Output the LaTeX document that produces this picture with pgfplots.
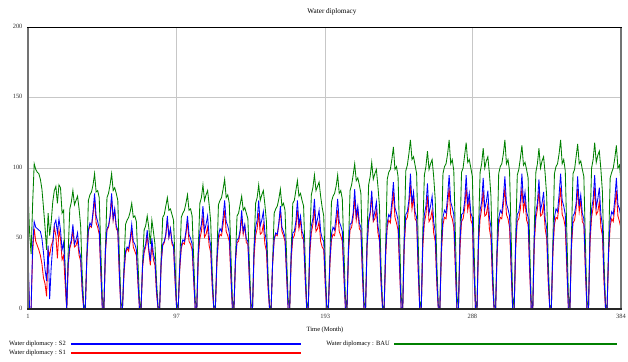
\documentclass[border=0pt]{standalone}
\usepackage{pgfplots}
\pgfplotsset{compat=1.18}
\usepackage{pgfplotstable}
\usepackage{fontspec}
\setmainfont{Liberation Serif}
\definecolor{cS2}{RGB}{0,0,255}
\definecolor{cS1}{RGB}{255,0,0}
\definecolor{cBAU}{RGB}{0,128,0}
\pgfplotstableread{
G B R
83 41 33
55 0 0
39 0 0
75 45 40
103 62 57
99 58 48
97 57 45
96 56 42
92 55 38
85 50 32
72 40 22
58 28 18
42 20 9
68 45 42
52 7 38
62 30 45
76 45 48
84 60 58
87 63 52
75 54 36
88 64 56
86 56 50
68 42 35
70 47 38
25 28 18
0 0 0
42 33 31
71 45 43
76 49 47
84 60 56
74 46 44
77 49 45
80 54 49
71 42 38
59 37 34
25 15 12
3 0 0
0 0 0
38 37 35
77 56 55
81 61 59
83 59 58
88 69 67
96 82 78
83 66 61
84 62 58
79 57 53
43 29 26
8 0 0
0 0 0
43 41 39
79 57 56
82 59 58
88 66 65
96 82 78
84 64 63
86 71 70
82 59 57
77 56 55
38 26 23
5 0 0
0 0 0
30 27 25
60 41 39
63 44 43
65 43 41
69 50 48
75 60 56
65 48 44
66 46 41
62 42 38
34 21 18
6 0 0
0 0 0
33 31 29
56 42 40
59 46 44
66 56 52
58 43 41
46 34 31
63 50 46
55 39 35
46 35 31
20 14 11
2 0 0
0 0 0
36 33 32
65 46 45
67 48 47
73 53 52
79 66 63
70 51 51
71 57 57
67 48 46
63 45 44
32 21 19
4 0 0
0 0 0
32 30 28
65 45 43
68 49 47
70 48 46
75 55 53
81 66 62
70 53 48
71 50 46
66 46 42
36 23 20
6 0 0
0 0 0
44 40 36
75 55 50
79 60 55
88 73 66
77 55 51
81 60 53
84 66 58
74 51 45
62 45 40
26 18 15
3 0 0
0 0 0
37 35 32
74 52 49
77 57 53
79 55 52
85 65 60
92 77 70
79 62 55
81 59 52
75 54 48
41 27 23
7 0 0
0 0 0
36 35 33
66 49 47
68 50 48
74 56 54
80 70 65
70 55 53
72 60 59
68 50 47
64 48 46
32 22 20
4 0 0
0 0 0
44 42 37
75 58 52
79 63 57
88 77 68
77 59 53
81 63 54
84 69 60
74 54 46
62 48 41
26 19 15
3 0 0
0 0 0
34 33 32
68 50 49
71 54 53
73 53 52
78 61 60
85 73 70
73 58 55
75 55 52
70 51 48
38 26 23
7 0 0
0 0 0
41 39 35
75 54 50
77 55 52
84 62 58
91 77 70
80 60 57
82 66 63
77 55 51
73 52 49
36 25 21
5 0 0
0 0 0
48 43 39
81 59 54
86 64 60
95 78 71
84 59 55
87 64 57
90 70 62
80 55 48
72 50 44
66 48 42
29 20 16
3 0 0
0 0 0
38 35 32
76 53 49
80 58 53
82 56 52
87 66 60
95 78 70
82 62 55
84 59 52
78 55 48
43 27 23
8 0 0
0 0 0
46 43 39
84 60 56
88 61 58
95 68 65
103 85 78
91 66 63
93 73 70
88 61 57
82 58 55
41 27 23
5 0 0
0 0 0
52 46 44
88 63 61
94 69 67
104 84 80
92 64 62
96 69 64
99 76 70
87 59 54
73 52 48
31 21 18
3 0 0
0 0 0
46 41 37
92 61 58
97 67 63
99 65 61
106 76 71
115 90 83
99 72 65
101 68 61
94 63 56
52 32 27
9 0 0
0 0 0
54 48 44
98 67 63
102 69 65
110 77 73
120 96 88
106 75 71
108 83 79
102 69 64
96 65 62
48 31 26
6 0 0
0 0 0
56 49 44
95 67 61
101 73 67
112 89 80
99 68 62
103 73 64
106 80 70
94 62 54
78 55 48
34 22 18
3 0 0
0 0 0
48 43 39
96 65 60
101 70 65
103 68 64
110 80 74
120 95 86
103 76 67
106 72 64
98 67 58
54 33 28
10 0 0
0 0 0
53 48 43
97 67 62
100 68 64
109 76 71
118 95 86
104 74 70
106 82 77
100 68 63
94 65 60
47 30 26
6 0 0
0 0 0
57 51 46
97 70 64
103 76 71
114 93 84
100 71 66
105 76 67
108 84 74
96 65 57
80 58 50
34 23 18
3 0 0
0 0 0
48 42 39
96 64 60
101 70 65
103 68 64
110 79 74
120 94 86
103 75 67
106 71 64
98 66 58
54 33 28
10 0 0
0 0 0
52 48 43
95 67 62
99 69 64
107 77 71
116 96 86
102 75 70
104 83 77
99 69 63
93 65 60
46 31 26
6 0 0
0 0 0
57 51 46
97 69 64
103 75 71
114 92 84
100 70 66
105 75 67
108 83 74
96 64 57
80 57 50
34 23 18
3 0 0
0 0 0
48 43 39
96 65 60
101 71 65
103 69 64
110 81 74
120 96 86
103 77 67
106 73 64
98 67 58
54 34 28
10 0 0
0 0 0
53 47 43
96 66 61
99 68 63
108 75 71
117 94 85
103 73 69
105 81 77
99 68 62
94 64 60
47 30 26
6 0 0
0 0 0
59 52 47
100 71 65
106 78 72
118 95 86
104 72 67
109 78 69
112 86 76
99 67 58
83 59 52
35 24 19
4 0 0
0 0 0
46 42 38
93 63 59
97 69 64
100 67 62
107 78 72
116 93 84
100 74 66
102 71 62
90 65 57
}\wdtable

\begin{document}
\begin{tikzpicture}[x=1bp,y=1bp]
\useasboundingbox (0,0) rectangle (628,361);
\begin{axis}[
  at={(28bp,52bp)}, anchor=south west,
  scale only axis, width=593bp, height=282bp,
  xmin=1, xmax=384, ymin=0, ymax=200,
  xtick={1,97,193,288,384}, ytick={0,50,100,150,200},
  xmajorgrids, ymajorgrids,
  major grid style={draw=black!22, line width=0.9pt},
  major tick length=0pt,
  axis line style={draw=none},
  /pgf/number format/assume math mode=true,
  ticklabel style={font=\fontsize{6.5}{7}\selectfont, text=black!80},
  yticklabel style={xshift=-2bp, yshift=1bp},
  xticklabel style={yshift=-2bp},
]
\addplot[cBAU, line width=0.85pt] table[x expr=\coordindex+1, y=G] {\wdtable};
\addplot[cS1, line width=0.85pt] table[x expr=\coordindex+1, y=R] {\wdtable};
\addplot[cS2, line width=0.85pt] table[x expr=\coordindex+1, y=B] {\wdtable};
\end{axis}
% frame
\draw[black!55, line width=1.6pt] (28,52) -- (28,334);
\draw[black!55, line width=1.6pt] (621,52) -- (621,334);
\draw[black, line width=1pt] (27.2,334) -- (621.8,334);
\draw[black!85, line width=1.6pt] (27.2,52) -- (621.8,52);
% title and axis label
\node[font=\fontsize{7.2}{8}\selectfont] at (332,349) {Water diplomacy};
\node[font=\fontsize{6.5}{7}\selectfont] at (325,31) {Time (Month)};
% legend
\draw[cS2, line width=1.1pt] (71,17) -- (301,17);
\draw[cS1, line width=1.1pt] (71,8) -- (301,8);
\draw[cBAU, line width=1.1pt] (394,17) -- (617,17);
\node[font=\fontsize{6.5}{7}\selectfont, anchor=east, inner sep=0pt] at (66,17) {Water diplomacy : S2};
\node[font=\fontsize{6.5}{7}\selectfont, anchor=east, inner sep=0pt] at (66,8) {Water diplomacy : S1};
\node[font=\fontsize{6.5}{7}\selectfont, anchor=east, inner sep=0pt] at (390,17) {Water diplomacy : BAU};
\end{tikzpicture}
\end{document}
